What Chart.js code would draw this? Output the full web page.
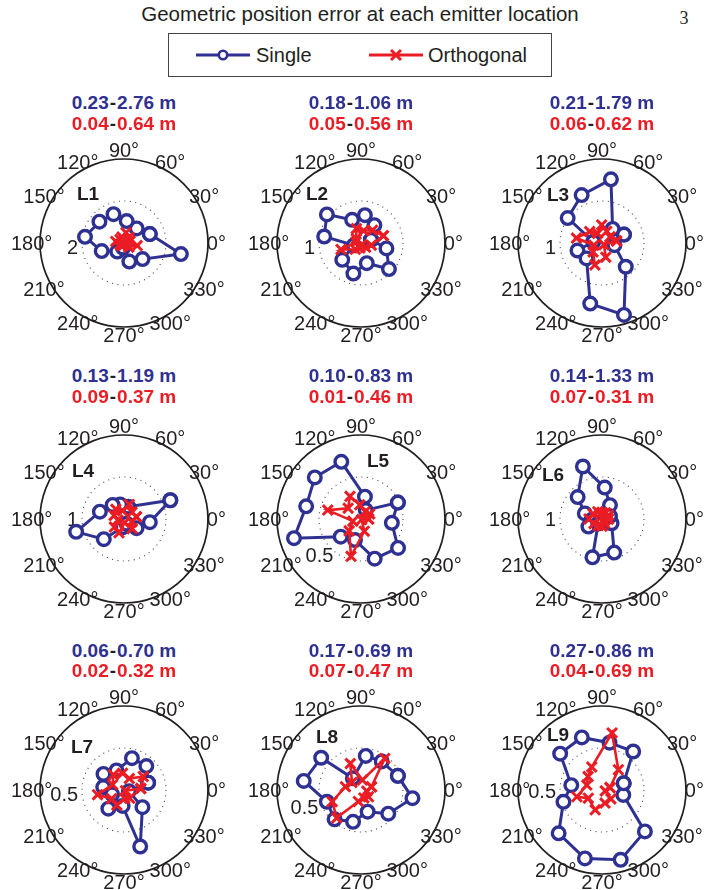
<!DOCTYPE html>
<html>
<head>
<meta charset="utf-8">
<script src="https://cdn.jsdelivr.net/npm/chart.js@4.4.1/dist/chart.umd.min.js"></script>
<style>
  html, body { margin: 0; padding: 0; background: #fff; }
  body { width: 712px; height: 890px; position: relative; overflow: hidden;
         font-family: "Liberation Sans", Arial, Helvetica, sans-serif; color: #231f20; }
  .abs { position: absolute; white-space: nowrap; transform: translate(-50%, -50%); line-height: 1; }
  #title { left: 360px; top: 14px; font-size: 20.5px; }
  #pageNo { left: 684px; top: 18px; font-family: "Liberation Serif", "Times New Roman", serif; font-size: 18px; }
  #legend { position: absolute; left: 168px; top: 33px; width: 384px; height: 44px;
            border: 1px solid #444; box-sizing: border-box; }
  .legItem { position: absolute; top: 50%; transform: translateY(-50%); font-size: 20px; line-height: 1; }
  .legSample { position: absolute; }
  .range { font-weight: bold; font-size: 19px; }
  .blue { color: #2e3192; }
  .red { color: #ec1c24; }
  .dash { color: #231f20; margin: 0 1px; }
  canvas.polar { position: absolute; }
</style>
</head>
<body>
<div id="title" class="abs">Geometric position error at each emitter location</div>
<div id="pageNo" class="abs">3</div>
<div id="legend">
  <canvas id="legSingle" class="legSample" width="60" height="20" style="left:24px;top:11px"></canvas>
  <span class="legItem" style="left:87px">Single</span>
  <canvas id="legOrth" class="legSample" width="60" height="20" style="left:197px;top:11px"></canvas>
  <span class="legItem" style="left:259px">Orthogonal</span>
</div>
<div id="plots"></div>

<script>
// ── DATA ─────────────────────────────────────────────────
const angleTicks = [0, 30, 60, 90, 120, 150, 180, 210, 240, 270, 300, 330];
const plotNames = ["L1", "L2", "L3", "L4", "L5", "L6", "L7", "L8", "L9"];
const outerRadii = [4, 2, 2, 2, 1, 2, 1, 1, 1];      // outer circle (m)
const ringValues = [2, 1, 1, 1, 0.5, 1, 0.5, 0.5, 0.5]; // dotted ring (m)

const singleMin = [0.23, 0.18, 0.21, 0.13, 0.10, 0.14, 0.06, 0.17, 0.27];
const singleMax = [2.76, 1.06, 1.79, 1.19, 0.83, 1.33, 0.70, 0.69, 0.86];
const orthMin   = [0.04, 0.05, 0.06, 0.09, 0.01, 0.07, 0.02, 0.07, 0.04];
const orthMax   = [0.64, 0.56, 0.62, 0.37, 0.46, 0.31, 0.32, 0.47, 0.69];

// angle in degrees, error in metres
const l1SingleTheta = [19, 49, 83, 110, 139, 171, 200, 232, 258, 286, 319, 349];
const l1SingleR     = [1.30, 0.92, 1.05, 1.46, 1.55, 1.88, 1.13, 0.52, 0.23, 0.92, 1.17, 2.76];
const l1OrthTheta   = [19, 49, 79, 109, 139, 169, 199, 229, 259, 289, 319, 349];
const l1OrthR       = [0.30, 0.35, 0.50, 0.30, 0.25, 0.40, 0.20, 0.15, 0.10, 0.04, 0.30, 0.64];

const l2SingleTheta = [18, 53, 82, 111, 140, 170, 198, 222, 256, 286, 317, 348];
const l2SingleR     = [0.25, 0.53, 0.67, 0.59, 1.06, 0.89, 0.18, 0.60, 0.75, 0.50, 0.91, 0.62];
const l2OrthTheta   = [18, 48, 78, 108, 138, 168, 198, 228, 258, 288, 318, 348];
const l2OrthR       = [0.56, 0.41, 0.30, 0.36, 0.15, 0.12, 0.50, 0.20, 0.12, 0.05, 0.15, 0.25];

const l3SingleTheta = [21, 53, 82, 113, 144, 172, 197, 225, 259, 287, 315, 350];
const l3SingleR     = [0.56, 0.42, 1.53, 1.24, 1.01, 0.21, 0.61, 0.52, 1.47, 1.79, 0.80, 0.30];
const l3OrthTheta   = [8, 38, 68, 91, 115, 137, 169, 195, 225, 252, 285, 320];
const l3OrthR       = [0.35, 0.24, 0.30, 0.43, 0.25, 0.40, 0.62, 0.20, 0.30, 0.55, 0.35, 0.06];

const l4SingleTheta = [22, 71, 105, 129, 163, 195, 225, 260, 300, 324, 353];
const l4SingleR     = [1.19, 0.31, 0.36, 0.43, 0.60, 1.18, 0.68, 0.20, 0.13, 0.37, 0.62];
const l4OrthTheta   = [10, 40, 70, 100, 130, 160, 190, 220, 250, 280, 310, 340];
const l4OrthR       = [0.30, 0.25, 0.37, 0.20, 0.30, 0.25, 0.15, 0.30, 0.35, 0.09, 0.30, 0.20];

const l5SingleTheta = [24, 62, 80, 109, 138, 167, 196, 221, 254, 289, 322, 353];
const l5SingleR     = [0.48, 0.12, 0.27, 0.72, 0.74, 0.67, 0.83, 0.32, 0.26, 0.50, 0.56, 0.37];
const l5OrthTheta   = [0, 30, 60, 95, 116, 140, 165, 195, 225, 255, 285, 320];
const l5OrthR       = [0.09, 0.12, 0.10, 0.17, 0.30, 0.20, 0.41, 0.10, 0.20, 0.46, 0.15, 0.01];

const l6SingleTheta = [20, 60, 85, 110, 138, 162, 185, 209, 230, 256, 290, 336];
const l6SingleR     = [0.20, 0.38, 0.75, 1.33, 0.78, 0.43, 0.25, 0.37, 0.14, 0.94, 0.85, 0.25];
const l6OrthTheta   = [0, 30, 60, 90, 120, 150, 180, 210, 240, 270, 300, 330];
const l6OrthR       = [0.15, 0.18, 0.17, 0.16, 0.20, 0.25, 0.31, 0.22, 0.18, 0.17, 0.12, 0.07];

const l7SingleTheta = [17, 47, 76, 111, 142, 172, 200, 230, 265, 286, 317, 347];
const l7SingleR     = [0.30, 0.39, 0.39, 0.25, 0.31, 0.25, 0.15, 0.29, 0.19, 0.70, 0.30, 0.06];
const l7OrthTheta   = [5, 35, 65, 95, 125, 155, 190, 215, 245, 275, 305, 335];
const l7OrthR       = [0.20, 0.28, 0.15, 0.20, 0.22, 0.15, 0.32, 0.18, 0.20, 0.10, 0.12, 0.02];

const l8SingleTheta = [21, 54, 82, 125, 141, 171, 199, 228, 256, 287, 319, 351];
const l8SingleR     = [0.47, 0.42, 0.41, 0.17, 0.61, 0.69, 0.43, 0.47, 0.39, 0.27, 0.43, 0.62];
const l8OrthTheta   = [17, 53, 82, 112, 140, 168, 202, 229, 257, 290, 318, 350];
const l8OrthR       = [0.13, 0.47, 0.12, 0.34, 0.14, 0.19, 0.37, 0.44, 0.14, 0.10, 0.12, 0.07];

const l9SingleTheta = [17, 51, 81, 111, 139, 171, 197, 225, 256, 285, 316, 347];
const l9SingleR     = [0.27, 0.59, 0.57, 0.67, 0.66, 0.37, 0.48, 0.73, 0.84, 0.86, 0.71, 0.26];
const l9OrthTheta   = [17, 51, 80, 114, 136, 162, 195, 211, 251, 283, 315, 345];
const l9OrthR       = [0.10, 0.31, 0.69, 0.30, 0.23, 0.19, 0.31, 0.19, 0.25, 0.16, 0.15, 0.04];

const singleTheta = [l1SingleTheta, l2SingleTheta, l3SingleTheta, l4SingleTheta, l5SingleTheta,
                     l6SingleTheta, l7SingleTheta, l8SingleTheta, l9SingleTheta];
const singleR     = [l1SingleR, l2SingleR, l3SingleR, l4SingleR, l5SingleR,
                     l6SingleR, l7SingleR, l8SingleR, l9SingleR];
const orthTheta   = [l1OrthTheta, l2OrthTheta, l3OrthTheta, l4OrthTheta, l5OrthTheta,
                     l6OrthTheta, l7OrthTheta, l8OrthTheta, l9OrthTheta];
const orthR       = [l1OrthR, l2OrthR, l3OrthR, l4OrthR, l5OrthR,
                     l6OrthR, l7OrthR, l8OrthR, l9OrthR];

// ── LAYOUT ───────────────────────────────────────────────
const BLUE = "#2e3192";
const RED = "#ec1c24";
const INK = "#231f20";
const FONT = '"Liberation Sans", Arial, Helvetica, sans-serif';

const colCenters = [124, 361, 602];
const rowCenters = [243, 519, 790];
const rangeRowY = [[102, 123], [375, 396], [650, 670]];
const RADIUS_PX = 84;     // outer circle radius
const HALF = 120;         // half canvas size
const nameOffsets = [[-36, -48], [-44, -48], [-44, -47], [-41, -47], [17, -57],
                     [-49, -43], [-42, -42], [-34, -52], [-44, -54]];
const ringLabelAngles = [185, 185, 185, 180, 233, 181, 185, 202, 182];

// ── POLAR GRID PLUGIN ────────────────────────────────────
const polarGrid = {
  id: "polarGrid",
  beforeDatasetsDraw(chart, args, opts) {
    const { ctx, scales: { x, y } } = chart;
    const cx = x.getPixelForValue(0);
    const cy = y.getPixelForValue(0);
    const rPx = x.getPixelForValue(opts.outer) - cx;
    const ringPx = x.getPixelForValue(opts.ring) - cx;
    ctx.save();

    // dotted inner ring
    ctx.setLineDash([1, 4.5]);
    ctx.lineWidth = 1.1;
    ctx.strokeStyle = "#444";
    ctx.beginPath();
    ctx.arc(cx, cy, ringPx, 0, 2 * Math.PI);
    ctx.stroke();

    // solid outer circle
    ctx.setLineDash([]);
    ctx.lineWidth = 1.7;
    ctx.strokeStyle = INK;
    ctx.beginPath();
    ctx.arc(cx, cy, rPx, 0, 2 * Math.PI);
    ctx.stroke();

    // angle labels at 1.1 * rmax
    ctx.fillStyle = INK;
    ctx.font = "20px " + FONT;
    ctx.textAlign = "center";
    ctx.textBaseline = "middle";
    angleTicks.forEach((a) => {
      const t = (a * Math.PI) / 180;
      const px = x.getPixelForValue(1.1 * opts.outer * Math.cos(t));
      const py = y.getPixelForValue(1.1 * opts.outer * Math.sin(t));
      ctx.fillText(a + "\u00b0", px, py + 1);
    });

    // ring value label
    const ra = (opts.ringAngle * Math.PI) / 180;
    ctx.textAlign = "right";
    ctx.fillText(String(opts.ring), cx + (ringPx + 4) * Math.cos(ra), cy - (ringPx + 4) * Math.sin(ra) + 1);

    // location name
    ctx.font = "bold 19px " + FONT;
    ctx.textAlign = "center";
    ctx.fillText(opts.name, cx + opts.nameOffset[0], cy + opts.nameOffset[1]);

    ctx.restore();
  },
};

function toXY(thetas, radii) {
  const pts = thetas.map((t, i) => ({
    x: radii[i] * Math.cos((t * Math.PI) / 180),
    y: radii[i] * Math.sin((t * Math.PI) / 180),
  }));
  pts.push({ ...pts[0] }); // close the loop
  return pts;
}

function addText(html, left, top, cls) {
  const d = document.createElement("div");
  d.className = "abs " + cls;
  d.style.left = left + "px";
  d.style.top = top + "px";
  d.innerHTML = html;
  document.body.appendChild(d);
}

const plotsDiv = document.getElementById("plots");

plotNames.forEach((name, i) => {
  const cx = colCenters[i % 3];
  const cy = rowCenters[Math.floor(i / 3)];
  const [yBlue, yRed] = rangeRowY[Math.floor(i / 3)];

  addText(`<span class="blue">${singleMin[i].toFixed(2)}</span><span class="dash">-</span><span class="blue">${singleMax[i].toFixed(2)} m</span>`,
          cx, yBlue, "range");
  addText(`<span class="red">${orthMin[i].toFixed(2)}</span><span class="dash">-</span><span class="red">${orthMax[i].toFixed(2)} m</span>`,
          cx, yRed, "range");

  const canvas = document.createElement("canvas");
  canvas.className = "polar";
  canvas.width = 2 * HALF;
  canvas.height = 2 * HALF;
  canvas.style.left = cx - HALF + "px";
  canvas.style.top = cy - HALF + "px";
  plotsDiv.appendChild(canvas);

  const R = outerRadii[i];
  const pad = HALF - RADIUS_PX;

  new Chart(canvas, {
    type: "scatter",
    data: {
      datasets: [
        {
          label: "Orthogonal",
          data: toXY(orthTheta[i], orthR[i]),
          showLine: true,
          borderColor: RED,
          borderWidth: 2.6,
          pointStyle: "crossRot",
          pointRadius: 7,
          pointBorderWidth: 3,
          pointBorderColor: RED,
          pointBackgroundColor: RED,
          order: 0,
          clip: false,
        },
        {
          label: "Single",
          data: toXY(singleTheta[i], singleR[i]),
          showLine: true,
          borderColor: BLUE,
          borderWidth: 3,
          pointStyle: "circle",
          pointRadius: 6.3,
          pointBorderWidth: 3.4,
          pointBorderColor: BLUE,
          pointBackgroundColor: "#fff",
          order: 1,
          clip: false,
        },
      ],
    },
    options: {
      responsive: false,
      animation: false,
      events: [],
      layout: { padding: pad },
      scales: {
        x: { type: "linear", min: -R, max: R, display: false },
        y: { type: "linear", min: -R, max: R, display: false },
      },
      plugins: {
        legend: { display: false },
        tooltip: { enabled: false },
        polarGrid: {
          outer: R,
          ring: ringValues[i],
          ringAngle: ringLabelAngles[i],
          name: name,
          nameOffset: nameOffsets[i],
        },
      },
    },
    plugins: [polarGrid],
  });
});

// ── LEGEND SAMPLES ───────────────────────────────────────
function drawSample(id, color, marker) {
  const c = document.getElementById(id);
  const ctx = c.getContext("2d");
  ctx.strokeStyle = color;
  ctx.lineWidth = 3;
  ctx.beginPath();
  ctx.moveTo(3, 10);
  ctx.lineTo(57, 10);
  ctx.stroke();
  if (marker === "circle") {
    ctx.fillStyle = "#fff";
    ctx.lineWidth = 2.6;
    ctx.beginPath();
    ctx.arc(30, 10, 4.2, 0, 2 * Math.PI);
    ctx.fill();
    ctx.stroke();
  } else {
    ctx.lineWidth = 3;
    ctx.beginPath();
    ctx.moveTo(25, 5); ctx.lineTo(35, 15);
    ctx.moveTo(25, 15); ctx.lineTo(35, 5);
    ctx.stroke();
  }
}
drawSample("legSingle", BLUE, "circle");
drawSample("legOrth", RED, "cross");
</script>
</body>
</html>
